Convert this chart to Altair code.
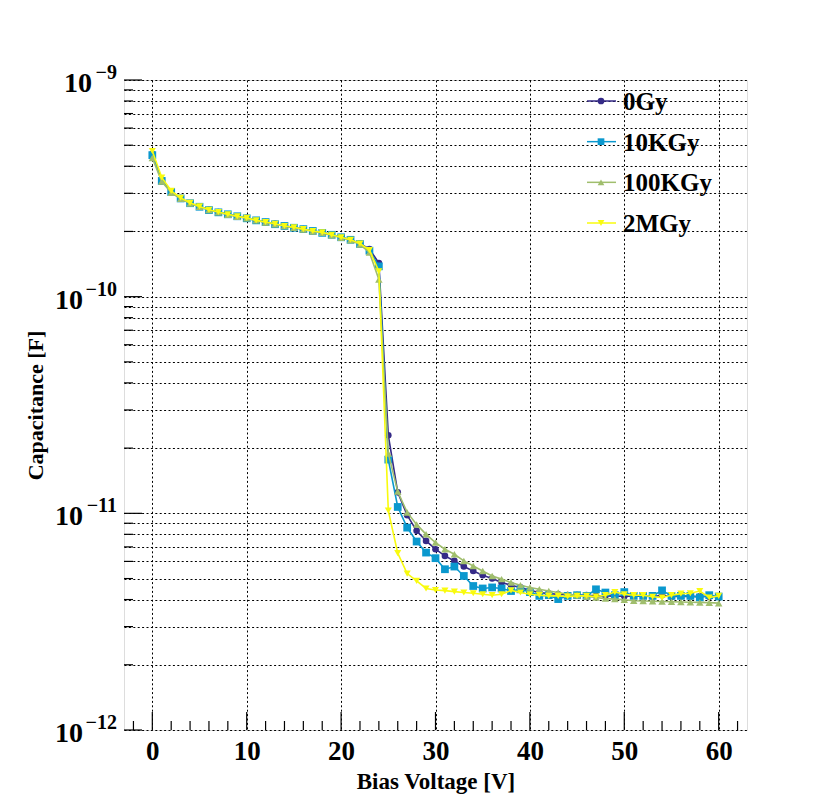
import altair as alt
import pandas as pd

# ---------------- data (capacitance in pF) ----------------
voltage = list(range(61))

series_names = ["0Gy", "10KGy", "100KGy", "2MGy"]
series_colors = ["#352A87", "#0A98CE", "#A0BE6D", "#F9FB0E"]
series_shapes = ["circle", "square", "triangle-up", "triangle-down"]
series_sizes = [44, 60, 56, 50]

cap_0gy = [455, 346, 305, 285, 270, 261, 252, 246, 240, 235, 231, 225, 221, 217, 212, 209,
           205, 201, 198, 193, 188, 183, 176, 166, 143, 22.9, 12.5, 9.80, 8.30, 7.46, 6.83,
           6.36, 6.03, 5.68, 5.42, 5.18, 5.00, 4.79, 4.66, 4.55, 4.41, 4.31, 4.26, 4.23, 4.20,
           4.20, 4.19, 4.16, 4.16, 4.15, 4.14, 4.15, 4.14, 4.13, 4.19, 4.12, 4.14, 4.13, 4.14,
           4.12, 4.13]
cap_10kgy = [450, 342, 304, 284, 270, 260, 251, 245, 240, 235, 230, 225, 221, 216, 212, 208,
             205, 201, 197, 193, 188, 183, 175, 163, 138, 17.7, 10.7, 8.59, 7.41, 6.59, 6.21,
             5.52, 5.68, 5.14, 4.62, 4.50, 4.55, 4.50, 4.38, 4.46, 4.33, 4.16, 4.19, 4.02, 4.16,
             4.19, 4.16, 4.46, 4.31, 4.19, 4.33, 4.16, 4.16, 4.16, 4.41, 4.16, 4.16, 4.16, 4.09,
             4.19, 4.13]
cap_100kgy = [437, 340, 302, 283, 269, 260, 251, 245, 239, 234, 230, 225, 220, 216, 212, 208,
              204, 200, 197, 192, 187, 182, 174, 160, 120, 18.9, 12.6, 10.1, 8.89, 8.00, 7.33,
              6.83, 6.47, 6.03, 5.71, 5.42, 5.14, 4.97, 4.79, 4.66, 4.55, 4.46, 4.38, 4.31, 4.23,
              4.19, 4.13, 4.09, 4.04, 4.02, 3.99, 3.95, 3.94, 3.93, 3.92, 3.91, 3.90, 3.89, 3.88,
              3.87, 3.85]
cap_2mgy = [470, 355, 308, 286, 271, 261, 252, 246, 240, 235, 231, 225, 221, 217, 212, 209,
            205, 201, 198, 193, 188, 183, 176, 164, 131, 10.3, 6.55, 5.27, 4.88, 4.50, 4.43,
            4.40, 4.35, 4.31, 4.28, 4.23, 4.19, 4.23, 4.41, 4.31, 4.23, 4.19, 4.16, 4.16, 4.13,
            4.16, 4.16, 4.13, 4.19, 4.33, 4.23, 4.19, 4.19, 4.12, 4.09, 4.19, 4.26, 4.28, 4.38,
            4.09, 4.16]
all_caps = [cap_0gy, cap_10kgy, cap_100kgy, cap_2mgy]

x_major = [0, 10, 20, 30, 40, 50, 60]
x_minor = [-2, 2, 4, 6, 8, 12, 14, 16, 18, 22, 24, 26, 28, 32, 34, 36, 38, 42, 44, 46, 48,
           52, 54, 56, 58, 62]
y_exponents = [-12, -11, -10, -9]
y_exp_labels = ["\u221212", "\u221211", "\u221210", "\u22129"]
y_major = [10.0 ** e for e in y_exponents]
y_minor = [m * 10.0 ** e for e in y_exponents[:-1] for m in range(2, 10)]
y_grid = sorted(y_major + y_minor)

FONT = "Liberation Serif"
W, H = 623, 650

xscale = alt.Scale(domain=[-3, 63], nice=False, zero=False)
yscale = alt.Scale(type="log", domain=[1e-12, 1e-9], nice=False)
cscale = alt.Scale(domain=series_names, range=series_colors)
sscale = alt.Scale(domain=series_names, range=series_shapes)

x_axis = alt.Axis(values=x_major, title="Bias Voltage [V]", titleY=58, titleFontSize=23)
y_axis = alt.Axis(values=y_grid, labels=False, title="Capacitance [F]",
                  titleX=-82, titleY=H / 2, titleFontSize=22)

# ---------- frame ticks (drawn inward) ----------
def xticks(vals, length):
    df = pd.DataFrame({"v": vals})
    return alt.Chart(df).mark_rule(color="black", strokeWidth=1.2).encode(
        x=alt.X("v:Q", scale=xscale, axis=x_axis),
        y=alt.value(H), y2=alt.value(H - length))

def yticks(vals, length):
    df = pd.DataFrame({"v": vals})
    return alt.Chart(df).mark_rule(color="black", strokeWidth=1.2).encode(
        y=alt.Y("v:Q", scale=yscale, axis=y_axis),
        x=alt.value(0), x2=alt.value(length))

layers = [xticks(x_major, 18), xticks(x_minor, 9), yticks(y_major, 18), yticks(y_minor, 9)]

# ---------- y tick labels: "10" with a raised exponent ----------
ylab_df = pd.DataFrame({"v": y_major, "exp": y_exp_labels, "e": y_exponents})
ylab_y = alt.Y("v:Q", scale=yscale, axis=y_axis)
ylab_exp = alt.Chart(ylab_df).mark_text(
    align="right", baseline="alphabetic", font=FONT, fontWeight="bold", fontSize=20,
    color="black", dy=-1).encode(x=alt.value(-7), y=ylab_y, text="exp:N")
ylab_base_short = alt.Chart(ylab_df).transform_filter("datum.e == -9").mark_text(
    align="right", baseline="alphabetic", font=FONT, fontWeight="bold", fontSize=28,
    color="black", dy=12).encode(x=alt.value(-32), y=ylab_y, text=alt.value("10"))
ylab_base_long = alt.Chart(ylab_df).transform_filter("datum.e != -9").mark_text(
    align="right", baseline="alphabetic", font=FONT, fontWeight="bold", fontSize=28,
    color="black", dy=12).encode(x=alt.value(-41), y=ylab_y, text=alt.value("10"))
layers += [ylab_exp, ylab_base_short, ylab_base_long]

# ---------- series ----------
for name, caps, size in zip(series_names, all_caps, series_sizes):
    df = pd.DataFrame({"V": voltage, "C": [c * 1e-12 for c in caps], "series": name})
    base = alt.Chart(df).encode(
        x=alt.X("V:Q", scale=xscale, axis=x_axis),
        y=alt.Y("C:Q", scale=yscale, axis=y_axis),
        color=alt.Color("series:N", scale=cscale, legend=None),
    )
    line = base.mark_line(strokeWidth=1.6)
    pts = base.mark_point(filled=True, opacity=1, size=size).encode(
        shape=alt.Shape("series:N", scale=sscale, legend=None))
    layers += [line, pts]

main = alt.layer(*layers)

# ---------- legend (top right, inside the frame) ----------
leg_df = pd.DataFrame({"series": series_names, "idx": list(range(len(series_names)))})
leg_y = alt.Y("idx:Q", scale=alt.Scale(domain=[0, 3], range=[21, 143]), axis=None)
leg_base = alt.Chart(leg_df).encode(
    y=leg_y, color=alt.Color("series:N", scale=cscale, legend=None))
leg_line = leg_base.mark_rule(strokeWidth=1.5).encode(x=alt.value(463), x2=alt.value(492))
leg_pts = leg_base.mark_point(filled=True, opacity=1, size=45).encode(
    x=alt.value(477), shape=alt.Shape("series:N", scale=sscale, legend=None))
leg_txt = alt.Chart(leg_df).mark_text(
    align="left", baseline="middle", font=FONT, fontWeight="bold", fontSize=25,
    color="black", dy=1).encode(x=alt.value(499), y=leg_y, text="series:N")
legend = alt.layer(leg_line, leg_pts, leg_txt)

chart = alt.layer(main, legend).resolve_scale(y="independent").properties(
    width=W, height=H,
    autosize=alt.AutoSizeParams(type="none"),
    padding={"left": 116, "top": 72, "right": 75, "bottom": 72},
).configure_view(stroke="black", strokeWidth=1.6).configure(
    background="white"
).configure_axis(
    grid=True, gridColor="black", gridDash=[2, 2.4], gridWidth=1, gridOpacity=1,
    tickSize=0, domain=False, labelFont=FONT, labelFontWeight="bold",
    labelFontSize=27, labelColor="black", labelPadding=8, labelOverlap=False,
    titleFont=FONT, titleFontWeight="bold", titleColor="black",
    titleBaseline="alphabetic",
)

chart.save("out.html", embed_options={"renderer": "svg", "actions": False})
